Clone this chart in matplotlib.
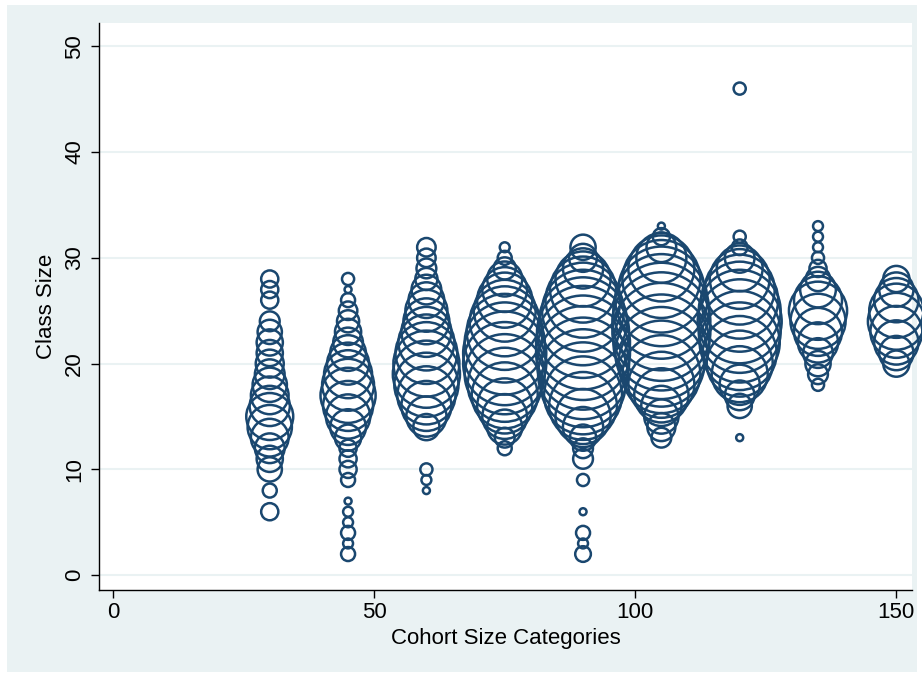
import numpy as np
import matplotlib.pyplot as plt
from matplotlib.patches import Rectangle

plt.rcParams['font.family'] = ['Liberation Sans', 'DejaVu Sans']

# Datos: clase (y) y frecuencia (peso de la burbuja) por categoria de cohorte
cohorts = [30, 45, 60, 75, 90, 105, 120, 135, 150]

size_30 = [6, 8, 10, 11, 12, 13, 14, 15, 16, 17, 18, 19, 20, 21, 22, 23, 24, 26, 27, 28]
freq_30 = [6, 4, 12, 14, 18, 29, 40, 45, 33, 29, 24, 18, 16, 14, 14, 12, 8, 6, 6, 6]

size_45 = [2, 3, 4, 5, 6, 7, 9, 10, 11, 12, 13, 14, 15, 16, 17, 18, 19, 20, 21, 22, 23, 24, 25, 26, 27, 28]
freq_45 = [4, 2, 4, 2, 2, 1, 4, 6, 6, 6, 14, 26, 40, 51, 62, 55, 47, 36, 26, 18, 14, 10, 7, 4, 1, 3]

size_60 = [8, 9, 10, 14, 15, 16, 17, 18, 19, 20, 21, 22, 23, 24, 25, 26, 27, 28, 29, 30, 31]
freq_60 = [1, 2, 3, 14, 33, 51, 69, 84, 92, 89, 78, 64, 51, 43, 36, 26, 18, 10, 8, 7, 7]

size_75 = [12, 13, 14, 15, 16, 17, 18, 19, 20, 21, 22, 23, 24, 25, 26, 27, 28, 29, 30, 31]
freq_75 = [4, 8, 25, 41, 62, 89, 112, 131, 141, 141, 131, 118, 100, 78, 62, 41, 25, 10, 4, 2]

size_90 = [2, 3, 4, 6, 9, 11, 12, 13, 14, 15, 16, 17, 18, 19, 20, 21, 22, 23, 24, 25, 26, 27, 28, 29, 30, 31]
freq_90 = [5, 2, 4, 1, 3, 8, 8, 14, 33, 62, 94, 124, 147, 165, 173, 180, 180, 173, 158, 137, 115, 89, 62, 33, 16, 13]

size_105 = [13, 14, 15, 16, 17, 18, 19, 20, 21, 22, 23, 24, 25, 26, 27, 28, 29, 30, 31, 32, 33]
freq_105 = [8, 16, 24, 33, 60, 89, 124, 151, 173, 188, 196, 196, 188, 173, 151, 124, 89, 51, 18, 6, 1]

size_120 = [13, 16, 17, 18, 19, 20, 21, 22, 23, 24, 25, 26, 27, 28, 29, 30, 31, 32, 46]
freq_120 = [1, 12, 18, 33, 64, 89, 112, 131, 137, 144, 137, 121, 100, 73, 43, 18, 5, 3, 3]

size_135 = [18, 19, 20, 21, 22, 23, 24, 25, 26, 27, 28, 29, 30, 31, 32, 33]
freq_135 = [3, 8, 13, 18, 33, 47, 62, 69, 47, 26, 12, 6, 3, 2, 2, 2]

size_150 = [20, 21, 22, 23, 24, 25, 26, 27, 28]
freq_150 = [14, 24, 40, 55, 66, 60, 40, 24, 14]

sizes = [size_30, size_45, size_60, size_75, size_90, size_105, size_120, size_135, size_150]
freqs = [freq_30, freq_45, freq_60, freq_75, freq_90, freq_105, freq_120, freq_135, freq_150]

navy = '#1a476f'
bg = '#eaf2f3'

fig = plt.figure(figsize=(9.22, 6.77), dpi=100, facecolor='white')
# Region exterior estilo Stata
fig.patches.append(Rectangle((7 / 922, 5 / 677), 910 / 922, 667 / 677,
                             transform=fig.transFigure, facecolor=bg,
                             edgecolor='none', zorder=-1))

ax = fig.add_axes([99 / 922, 1 - 590 / 677, 813 / 922, 567 / 677])
ax.set_facecolor('white')

for cx, ys, fs in zip(cohorts, sizes, freqs):
    xs = np.full(len(ys), cx)
    ax.scatter(xs, ys, s=np.array(fs) * 25.4, facecolors='none',
               edgecolors=navy, linewidths=1.8, clip_on=False, zorder=3)

ax.set_xlim(-2.7, 153)
ax.set_ylim(-1.4, 52.2)
ax.set_xticks([0, 50, 100, 150])
ax.set_yticks([0, 10, 20, 30, 40, 50])
ax.grid(axis='y', color=bg, linewidth=1.5, zorder=0)
ax.set_axisbelow(True)

for side in ['top', 'right']:
    ax.spines[side].set_visible(False)
for side in ['left', 'bottom']:
    ax.spines[side].set_color('black')
    ax.spines[side].set_linewidth(1.0)

ax.tick_params(axis='both', direction='out', length=6, width=1, labelsize=16,
               colors='black')
ax.tick_params(axis='x', pad=3)
ax.tick_params(axis='y', pad=4)
plt.setp(ax.get_yticklabels(), rotation=90, va='center')

ax.set_xlabel('Cohort Size Categories', fontsize=16, labelpad=3)
ax.set_ylabel('Class Size', fontsize=16, labelpad=5)

fig.savefig('out.png', dpi=100, facecolor=fig.get_facecolor())
